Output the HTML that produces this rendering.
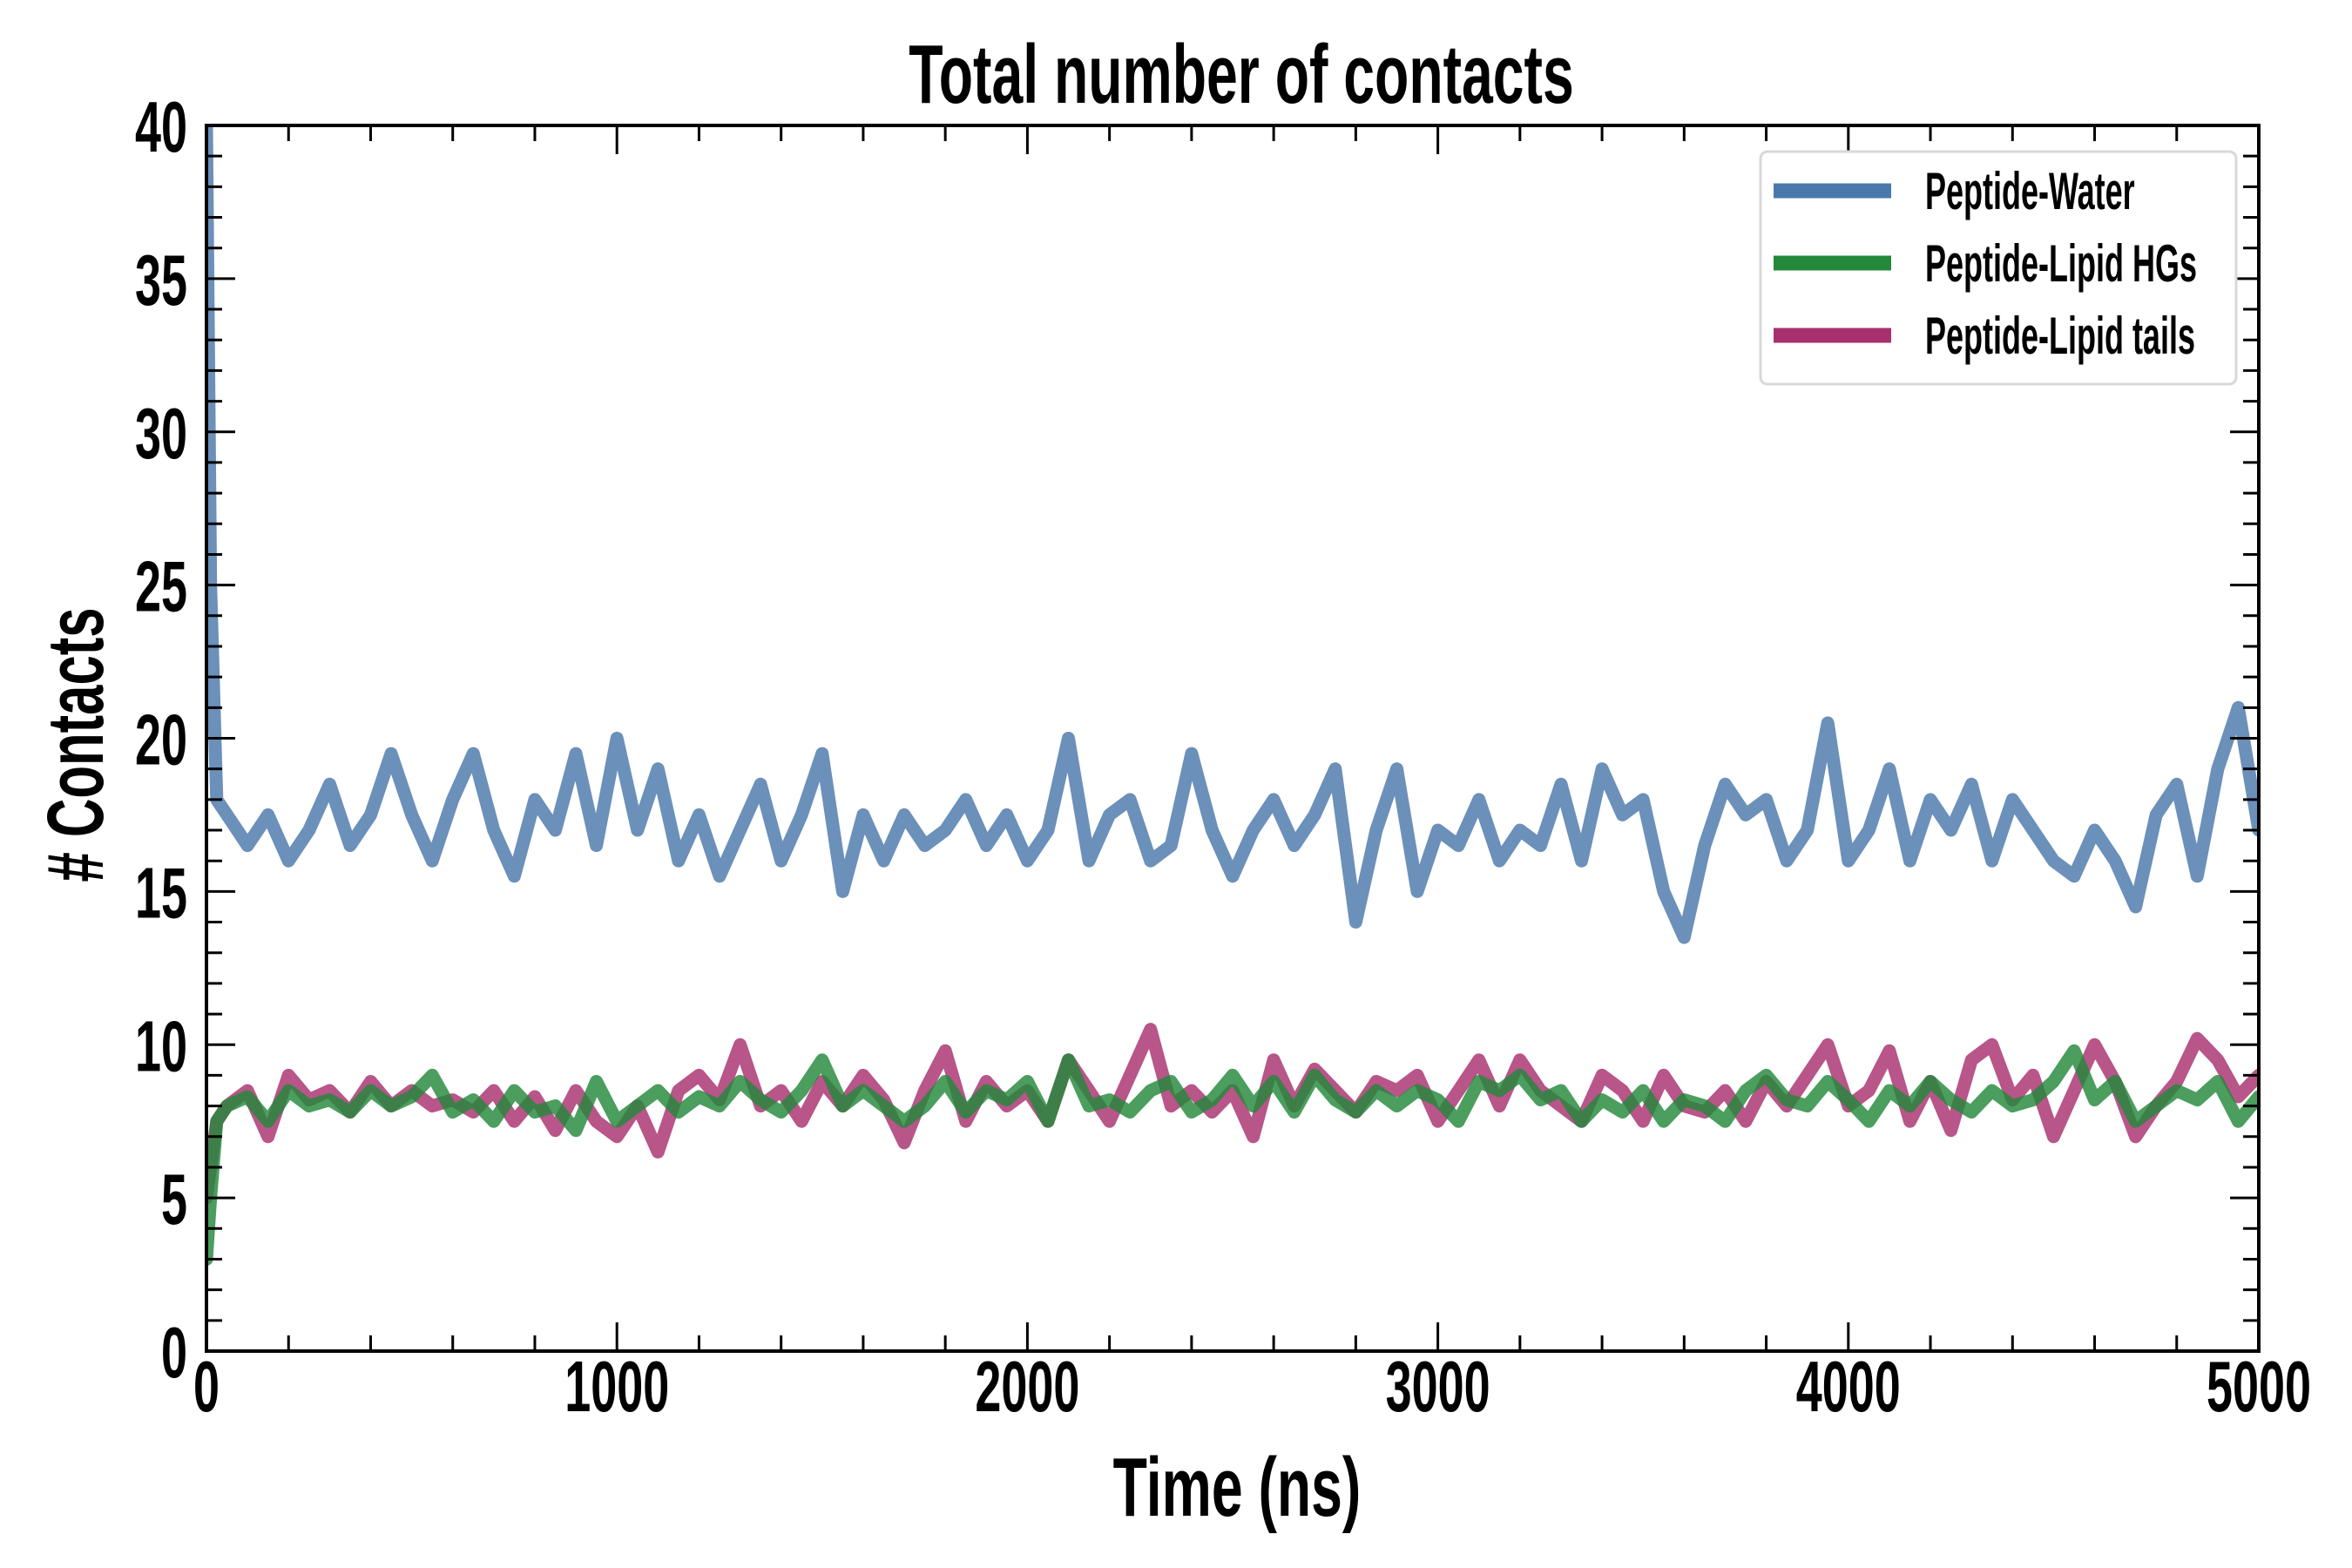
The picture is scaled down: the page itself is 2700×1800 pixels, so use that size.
<!DOCTYPE html>
<html><head><meta charset="utf-8"><style>
html,body{margin:0;padding:0;background:#fff;}
svg{display:block;}
text{font-family:"Liberation Sans",sans-serif;font-weight:bold;fill:#000;}
</style></head><body>
<svg id="chart" width="2700" height="1800" viewBox="0 0 2700 1800">
<g id="plot"></g>
<g id="axes"></g>
</svg>
<script>
const times = [0,10,25,50,100,150,200,250,300,350,400,450,500,550,600,650,700,750,800,850,900,950,1000,1050,1100,1150,1200,1250,1300,1350,1400,1450,1500,1550,1600,1650,1700,1750,1800,1850,1900,1950,2000,2050,2100,2150,2200,2250,2300,2350,2400,2450,2500,2550,2600,2650,2700,2750,2800,2850,2900,2950,3000,3050,3100,3150,3200,3250,3300,3350,3400,3450,3500,3550,3600,3650,3700,3750,3800,3850,3900,3950,4000,4050,4100,4150,4200,4250,4300,4350,4400,4450,4500,4550,4600,4650,4700,4750,4800,4850,4900,4950,5000];
const water = [40,25,18,17.5,16.5,17.5,16,17,18.5,16.5,17.5,19.5,17.5,16,18,19.5,17,15.5,18,17,19.5,16.5,20,17,19,16,17.5,15.5,17,18.5,16,17.5,19.5,15,17.5,16,17.5,16.5,17,18,16.5,17.5,16,17,20,16,17.5,18,16,16.5,19.5,17,15.5,17,18,16.5,17.5,19,14,17,19,15,17,16.5,18,16,17,16.5,18.5,16,19,17.5,18,15,13.5,16.5,18.5,17.5,18,16,17,20.5,16,17,19,16,18,17,18.5,16,18,17,16,15.5,17,16,14.5,17.5,18.5,15.5,19,21,17];
const headgroups = [3,5,7.5,8,8.3,7.5,8.5,8,8.2,7.8,8.5,8,8.3,9,7.8,8.2,7.5,8.5,7.8,8,7.2,8.8,7.5,8,8.5,7.8,8.3,8,8.8,8.2,7.8,8.5,9.5,8,8.5,8,7.5,8,8.8,7.8,8.5,8.2,8.8,7.5,9.5,8,8.2,7.8,8.5,8.8,7.8,8.2,9,8,8.8,7.8,9,8.2,7.8,8.5,8,8.5,8.2,7.5,8.8,8.5,9,8.2,8.5,7.5,8.2,7.8,8.5,7.5,8.2,8,7.5,8.5,9,8.2,8,8.8,8.2,7.5,8.5,8,8.8,8.2,7.8,8.5,8,8.2,8.8,9.8,8.2,8.8,7.5,8,8.5,8.2,8.8,7.5,8.3];
const tails = [5,6,7.5,8,8.5,7,9,8.2,8.5,7.8,8.8,8,8.5,8,8.2,7.8,8.5,7.5,8.3,7.2,8.5,7.5,7,8,6.5,8.5,9,8.2,10,8,8.5,7.5,8.8,8,9,8.2,6.8,8.5,9.8,7.5,8.8,8,8.5,7.5,9.5,8.5,7.5,9,10.5,8,8.5,7.8,8.5,7,9.5,8,9.2,8.5,7.8,8.8,8.5,9,7.5,8.5,9.5,8,9.5,8.5,8,7.5,9,8.5,7.5,9,8,7.8,8.5,7.5,8.8,8,9,10,8,8.5,9.8,7.5,8.8,7.2,9.5,10,8.2,9,7,8.5,10,8.8,7,8,8.8,10.2,9.5,8.3,9];
const xTicks = [0,1000,2000,3000,4000,5000];
const yTicks = [0,5,10,15,20,25,30,35,40];
const seriesNames = ["Peptide-Water","Peptide-Lipid HGs","Peptide-Lipid tails"];

const L=237,R=2593,T=144,B=1551;
const X=t=>L+(t-0)/5000*(R-L);
const Y=v=>B-(v-0)/40*(B-T);
const NS="http://www.w3.org/2000/svg";
const plot=document.getElementById('plot'), axes=document.getElementById('axes');
function mk(tag,attrs,parent){const e=document.createElementNS(NS,tag);for(const k in attrs)e.setAttribute(k,attrs[k]);parent.appendChild(e);return e;}

const defs=mk('defs',{},plot);
const cp=mk('clipPath',{id:'clip'},defs);
mk('rect',{x:L,y:T,width:R-L,height:B-T},cp);
const g=mk('g',{'clip-path':'url(#clip)'},plot);

function line(vals,color,name){
  const d=vals.map((v,i)=>(i?'L':'M')+X(times[i]).toFixed(1)+' '+Y(v).toFixed(1)).join(' ');
  const p=mk('path',{d:d,fill:'none',stroke:color,'stroke-width':15,'stroke-opacity':0.82,'stroke-linejoin':'round','stroke-linecap':'round'},g);
  
  
}
line(water,'#4a78ab','water-line');
line(tails,'#a8306f','lipid-tails-line');
line(headgroups,'#23893a','lipid-headgroups-line');

const fr=mk('rect',{x:L,y:T,width:R-L,height:B-T,fill:'none',stroke:'#000','stroke-width':4},axes);



for(let t=0;t<=5000;t+=200){
  const maj=t%1000===0, len=maj?33:18, x=X(t);
  mk('line',{x1:x,y1:B,x2:x,y2:B-len,stroke:'#000','stroke-width':3},axes);
  mk('line',{x1:x,y1:T,x2:x,y2:T+len,stroke:'#000','stroke-width':3},axes);
}
for(let v=0;v<=40;v+=1){
  const maj=v%5===0, len=maj?33:18, y=Y(v);
  mk('line',{x1:L,y1:y,x2:L+len,y2:y,stroke:'#000','stroke-width':3},axes);
  mk('line',{x1:R,y1:y,x2:R-len,y2:y,stroke:'#000','stroke-width':3},axes);
}
function txt(s,x,y,size,anchor,sx,name,rot){
  const gg=mk('g',{transform:`translate(${x},${y})`+(rot?` rotate(${rot})`:'')+` scale(${sx},1)`},axes);
  const e=mk('text',{x:0,y:0,'font-size':size,'text-anchor':anchor},gg);
  e.textContent=s;
  
  
  return e;
}
xTicks.forEach(t=>txt(String(t),X(t),1620,83,'middle',0.65,'x-tick-label'));
yTicks.forEach(v=>txt(String(v),215,Y(v)+30,83,'end',0.65,'y-tick-label'));
txt('Total number of contacts',1425,118,96,'middle',0.67,'chart-title');
txt('Time (ns)',1420,1740,96,'middle',0.67,'x-axis-title');
txt('# Contacts',118,855,92,'middle',0.67,'y-axis-title',-90);

const lg=mk('g',{},axes);


mk('rect',{x:2021,y:174,width:546,height:267,rx:8,fill:'#fff',stroke:'#d8d8d8','stroke-width':3},lg);
const lcolors=['#4a78ab','#23893a','#a8306f'];
seriesNames.forEach((n,i)=>{
  const y=219+i*83;
  const l=mk('line',{x1:2036,y1:y,x2:2171,y2:y,stroke:lcolors[i],'stroke-width':17},lg);
  
  
  const gg=mk('g',{transform:`translate(2210,${y+21}) scale(0.6,1)`},lg);
  const e=mk('text',{x:0,y:0,'font-size':60},gg);
  e.textContent=n;
  
  
});
</script>
</body></html>
